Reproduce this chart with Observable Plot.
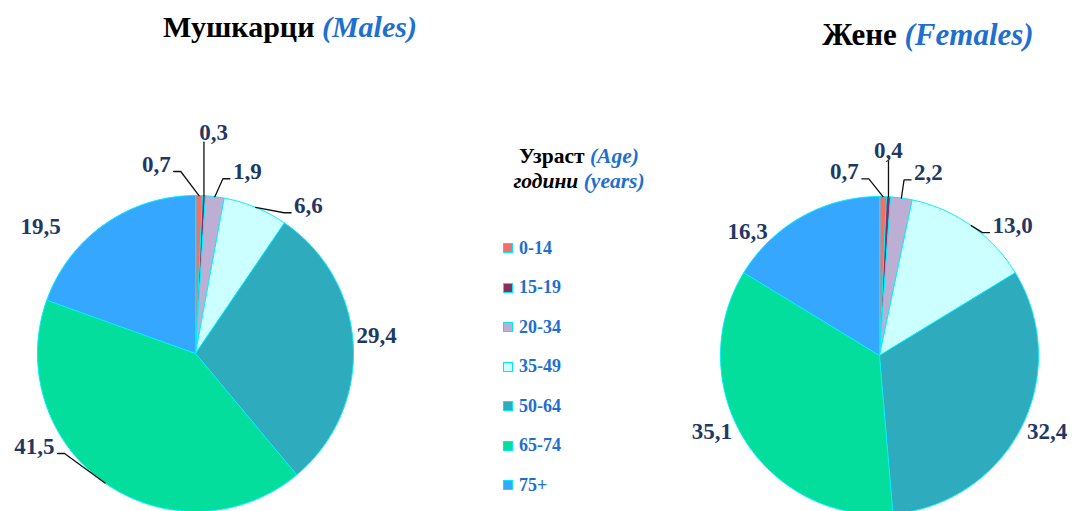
<!DOCTYPE html>
<html><head><meta charset="utf-8">
<script src="https://cdn.jsdelivr.net/npm/d3@7"></script>
<script src="https://cdn.jsdelivr.net/npm/@observablehq/plot@0.6"></script>
<style>
body{margin:0;background:#fff;}
#wrap{position:relative;width:1072px;height:511px;overflow:hidden;font-family:"Liberation Serif","Times New Roman",serif;}
#wrap svg{position:absolute;left:0;top:0;}
.title{position:absolute;width:400px;text-align:center;font-weight:bold;white-space:nowrap;color:#000;line-height:1;}
.en{color:#1F6FD0;font-style:italic;}
.ltitle{position:absolute;left:479px;width:200px;top:144px;text-align:center;font-size:21.5px;line-height:25px;font-weight:bold;color:#000;white-space:nowrap;}
.item{position:absolute;left:503px;height:20px;display:flex;align-items:center;font-size:18px;font-weight:bold;color:#1F6FD0;}
.sw{width:8px;height:8px;border:1px solid #00E8FF;margin-right:6px;}
</style></head>
<body>
<div id="wrap"></div>
<script>
// ---- data ----
const ageGroups = ["0-14","15-19","20-34","35-49","50-64","65-74","75+"];
const males   = [0.7, 0.3, 1.9, 6.6, 29.4, 41.5, 19.5];
const females = [0.7, 0.4, 2.2, 13.0, 32.4, 35.1, 16.3];
const maleLabels   = ["0,7","0,3","1,9","6,6","29,4","41,5","19,5"];
const femaleLabels = ["0,7","0,4","2,2","13,0","32,4","35,1","16,3"];
const sliceColors = ["#F2706B","#8B2D5E","#BDAED3","#CCFFFF","#2EABBD","#03DE9C","#35A7FF"];

// ---- layout ----
const W = 1072, H = 511;
const charts = [
  {name:"m", values: males, labels: maleLabels, cx:195, cy:353, r:158,
   place:[[-11.7,193,1],[4.7,222,1],[15.9,189,1],[37.4,186,1],[84.3,182,0],[240,186,1],[309.3,200,0]]},
  {name:"f", values: females, labels: femaleLabels, cx:879, cy:355, r:159,
   place:[[-10.8,187,1],[2.5,205,1],[15,189,1],[45.7,186,1],[114.4,184,0],[245.6,184,0],[313.2,181,0]]}
];
const labelFont = 23;

const polys = [], texts = [], leaders = [];
const rad = d => d*Math.PI/180;
for (const c of charts) {
  const arcs = d3.pie().sort(null).startAngle(0).endAngle(2*Math.PI)(c.values);
  const pt = (a, rr) => ({x: c.cx + rr*Math.sin(a), y: c.cy - rr*Math.cos(a)});
  arcs.forEach((a, i) => {
    const key = c.name + i;
    polys.push({key, group: ageGroups[i], x: c.cx, y: c.cy});
    const n = Math.max(2, Math.ceil((a.endAngle - a.startAngle)/rad(1)));
    for (let k = 0; k <= n; k++) {
      const ang = a.startAngle + (a.endAngle - a.startAngle)*k/n;
      polys.push({key, group: ageGroups[i], ...pt(ang, c.r)});
    }
    const [th, dist, lead] = c.place[i];
    const lp = pt(rad(th), dist);
    const txt = c.labels[i];
    texts.push({x: lp.x, y: lp.y, text: txt});
    if (lead) {
      const mid = (a.startAngle + a.endAngle)/2;
      const an = pt(mid, c.r);
      const em = [...txt].reduce((s, ch) => s + (ch === "," ? 0.25 : 0.5), 0);
      const hw = em*labelFont/2;
      let pts;
      if (Math.abs(lp.x - an.x) < hw) {
        pts = [an, {x: an.x, y: lp.y + 10}];
      } else if (lp.x < an.x) {
        const e = {x: lp.x + hw + 3, y: lp.y + 7};
        pts = [an, {x: e.x + 7, y: e.y}, e];
      } else {
        const e = {x: lp.x - hw - 3, y: lp.y + 7};
        pts = [an, {x: e.x - 7, y: e.y}, e];
      }
      pts.forEach(p => leaders.push({key, ...p}));
    }
  });
}

const plot = Plot.plot({
  width: W, height: H, margin: 0,
  x: {domain: [0, W], range: [0, W], axis: null},
  y: {domain: [0, H], range: [0, H], axis: null},
  color: {domain: ageGroups, range: sliceColors},
  style: {fontFamily: "Liberation Serif, Times New Roman, serif", background: "transparent"},
  marks: [
    Plot.line(polys, {x: "x", y: "y", z: "key", fill: "group", stroke: "#00F0FF", strokeWidth: 1, curve: "linear-closed"}),
    Plot.line(leaders, {x: "x", y: "y", z: "key", stroke: "#111", strokeWidth: 1.3}),
    Plot.text(texts, {x: "x", y: "y", text: "text", fontSize: labelFont, fontWeight: "bold", fill: "#1F3864"})
  ]
});
const wrap = document.getElementById("wrap");
wrap.appendChild(plot);

// titles
const t1 = document.createElement("div");
t1.className = "title"; t1.style.left = (290-200)+"px"; t1.style.top = "12px"; t1.style.fontSize = "30px";
t1.innerHTML = 'Мушкарци <span class="en">(Males)</span>';
wrap.appendChild(t1);
const t2 = document.createElement("div");
t2.className = "title"; t2.style.left = (928-200)+"px"; t2.style.top = "19px"; t2.style.fontSize = "31px";
t2.innerHTML = 'Жене <span class="en">(Females)</span>';
wrap.appendChild(t2);

// legend
const lt = document.createElement("div");
lt.className = "ltitle";
lt.innerHTML = 'Узраст <span class="en">(Age)</span><br><i>години</i> <span class="en">(years)</span>';
wrap.appendChild(lt);
ageGroups.forEach((g, i) => {
  const it = document.createElement("div");
  it.className = "item";
  it.style.top = (248 + i*39.5 - 10) + "px";
  const sw = document.createElement("span");
  sw.className = "sw"; sw.style.background = sliceColors[i];
  it.appendChild(sw);
  it.appendChild(document.createTextNode(g));
  wrap.appendChild(it);
});
</script>
</body></html>
